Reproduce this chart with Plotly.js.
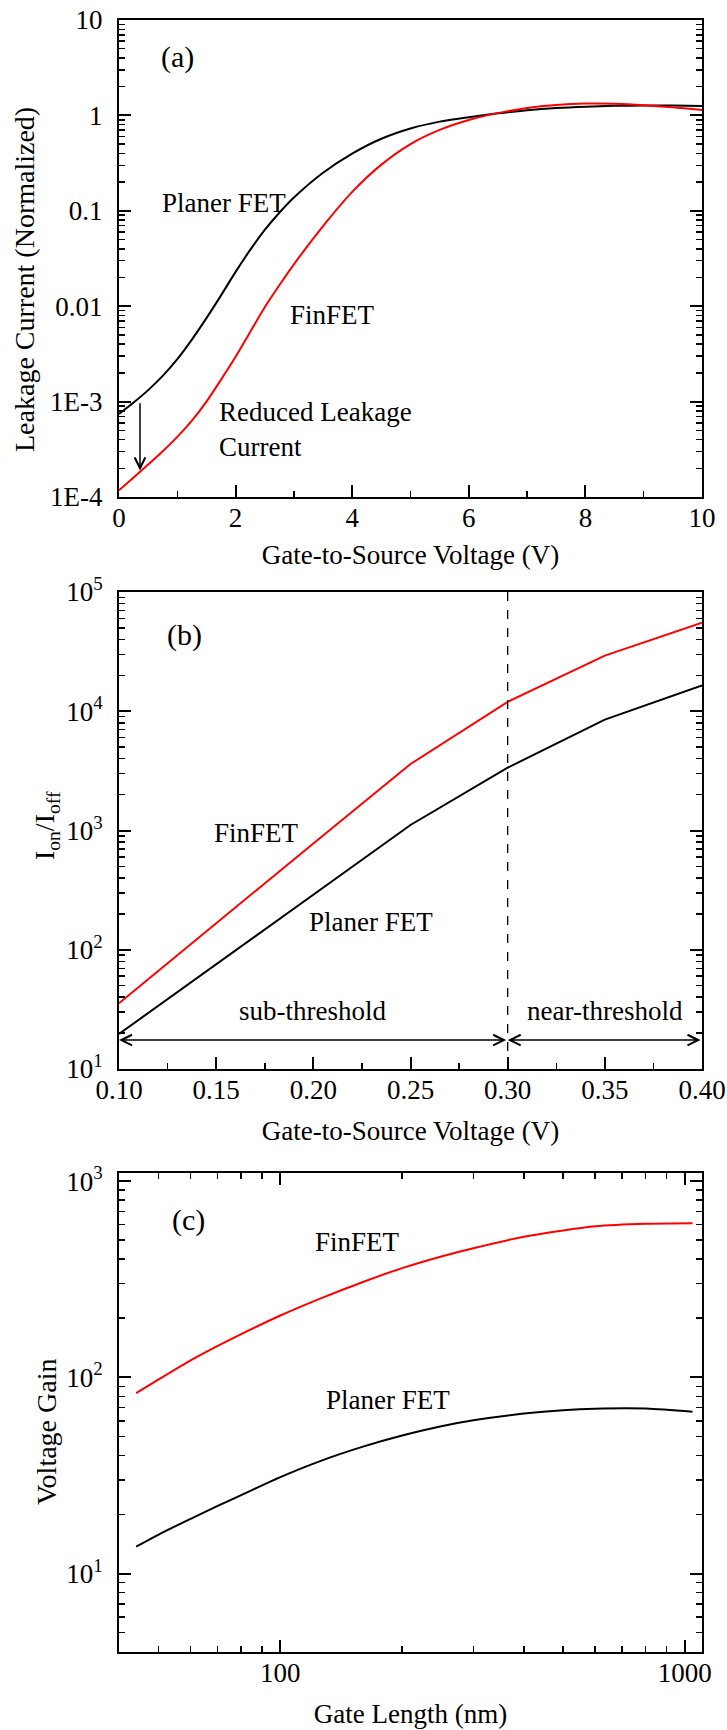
<!DOCTYPE html>
<html><head><meta charset="utf-8">
<script src="https://cdn.plot.ly/plotly-3.0.1.min.js"></script>
<style>html,body{margin:0;padding:0;background:#fff}</style>
</head><body><div id="chart" style="width:727px;height:1730px"></div>
<script>
// ---------- Panel (a): leakage current vs gate-to-source voltage ----------
const vgsA = [0, 0.25, 0.5, 0.75, 1, 1.25, 1.5, 1.75, 2, 2.25, 2.5, 2.75, 3, 3.5, 4, 4.5, 5, 5.5, 6, 6.5, 7, 7.5, 8, 8.5, 9, 9.5, 10];
const leakPlaner = [7.41e-4, 9.77e-4, 1.32e-3, 1.86e-3, 2.79e-3, 4.47e-3, 7.50e-3, 0.0130, 0.0229, 0.0389, 0.0631, 0.0955, 0.138, 0.251, 0.398, 0.569, 0.729, 0.861, 0.959, 1.052, 1.135, 1.197, 1.236, 1.259, 1.268, 1.268, 1.253];
const leakFin = [1.175e-4, 1.60e-4, 2.19e-4, 3.02e-4, 4.27e-4, 6.31e-4, 1.0e-3, 1.70e-3, 2.95e-3, 5.37e-3, 9.77e-3, 0.0166, 0.0275, 0.0692, 0.158, 0.305, 0.501, 0.705, 0.895, 1.057, 1.197, 1.288, 1.33, 1.321, 1.279, 1.216, 1.14];
const tickValsA = [1e-4, 1e-3, 0.01, 0.1, 1, 10];
const tickTextA = ['1E-4', '1E-3', '0.01', '0.1', '1', '10'];

// ---------- Panel (b): Ion/Ioff vs gate-to-source voltage ----------
const vgsB = [0.10, 0.15, 0.20, 0.25, 0.30, 0.35, 0.40];
const ratioFin = [35.6, 168, 780, 3615, 12000, 29300, 55300];
const ratioPlaner = [19.7, 75.5, 290, 1113, 3365, 8510, 16500];
const tickValsBx = [0.10, 0.15, 0.20, 0.25, 0.30, 0.35, 0.40];
const tickTextBx = ['0.10', '0.15', '0.20', '0.25', '0.30', '0.35', '0.40'];
const tickValsB = [10, 100, 1000, 10000, 100000];
const tickTextB = ['10<sup>1</sup>', '10<sup>2</sup>', '10<sup>3</sup>', '10<sup>4</sup>', '10<sup>5</sup>'];
const thresholdV = 0.30;

// ---------- Panel (c): voltage gain vs gate length ----------
const gateLen = [44, 50, 60, 70, 80, 100, 125, 160, 200, 250, 300, 400, 500, 600, 800, 1045];
const gainFin = [83, 97.5, 122, 144.5, 166, 206.5, 251, 306, 360, 413, 455, 520, 560, 588, 606, 610];
const gainPlaner = [13.7, 15.8, 19.0, 22.1, 25.1, 31.0, 37.3, 44.3, 50.5, 56.3, 60.4, 65.3, 68.0, 69.2, 69.3, 66.7];
const tickValsCx = [100, 1000];
const tickTextCx = ['100', '1000'];
const tickValsC = [10, 100, 1000];
const tickTextC = ['10<sup>1</sup>', '10<sup>2</sup>', '10<sup>3</sup>'];

// ---------- helpers ----------
function minorLog(d0, d1) {
  const v = [];
  for (let e = d0; e <= d1; e++) for (let m = 2; m <= 9; m++) v.push(m * Math.pow(10, e));
  return v;
}
const FONT = 'Liberation Serif, Times New Roman, serif';
const BLACK = '#000000', RED = '#ff0000';

function axis(extra) {
  return Object.assign({
    showline: true, linewidth: 2, linecolor: BLACK, mirror: 'ticks',
    ticks: 'inside', ticklen: 12, tickwidth: 2, tickcolor: BLACK,
    showgrid: false, zeroline: false,
    tickfont: { family: FONT, size: 27, color: BLACK }
  }, extra);
}
function minor(vals) {
  return { tickvals: vals, ticks: 'inside', ticklen: 6, tickwidth: 1.5, tickcolor: BLACK, showgrid: false };
}
function xtitle(text, standoff) {
  return { text: text, font: { family: FONT, size: 27, color: BLACK }, standoff: standoff };
}

const traces = [
  { x: vgsA, y: leakPlaner, xaxis: 'x', yaxis: 'y', mode: 'lines', name: 'Planer FET', line: { color: BLACK, width: 2, shape: 'spline', smoothing: 0.8 } },
  { x: vgsA, y: leakFin, xaxis: 'x', yaxis: 'y', mode: 'lines', name: 'FinFET', line: { color: RED, width: 2, shape: 'spline', smoothing: 0.8 } },
  { x: vgsB, y: ratioFin, xaxis: 'x2', yaxis: 'y2', mode: 'lines', name: 'FinFET', line: { color: RED, width: 2 } },
  { x: vgsB, y: ratioPlaner, xaxis: 'x2', yaxis: 'y2', mode: 'lines', name: 'Planer FET', line: { color: BLACK, width: 2 } },
  { x: gateLen, y: gainFin, xaxis: 'x3', yaxis: 'y3', mode: 'lines', name: 'FinFET', line: { color: RED, width: 2, shape: 'spline', smoothing: 0.8 } },
  { x: gateLen, y: gainPlaner, xaxis: 'x3', yaxis: 'y3', mode: 'lines', name: 'Planer FET', line: { color: BLACK, width: 2, shape: 'spline', smoothing: 0.8 } }
];

function label(xref, yref, x, y, text, extra) {
  return Object.assign({ xref: xref, yref: yref, x: x, y: y, text: text, showarrow: false,
    font: { family: FONT, size: 27, color: BLACK } }, extra || {});
}
function ytitle(y, x, text) {
  return { xref: 'paper', yref: 'paper', x: x, y: y, text: text, textangle: -90, showarrow: false,
    xanchor: 'center', yanchor: 'middle', font: { family: FONT, size: 28, color: BLACK } };
}
const L = Math.log10;
const arrowY = 1.243; // log10 position of the double arrows in panel (b)
const arrowStyle = { text: '', showarrow: true, arrowhead: 5, arrowsize: 1.4, arrowwidth: 1.5, arrowcolor: BLACK, standoff: 0, startstandoff: 0 };

const annotations = [
  label('x', 'y', 1.01, 0.612, '(a)', { font: { family: FONT, size: 30, color: BLACK } }),
  label('x', 'y', 1.8, -0.918, 'Planer FET'),
  label('x', 'y', 3.67, -2.09, 'FinFET'),
  label('x', 'y', 1.68, -3.29, 'Reduced Leakage<br>Current', { xanchor: 'left', align: 'left' }),
  Object.assign({ xref: 'x', yref: 'y', x: 0.36, y: L(1.9e-4), ax: 0.36, ay: L(1.0e-3), axref: 'x', ayref: 'y' }, arrowStyle),
  ytitle(0.8407, -0.1612, 'Leakage Current (Normalized)'),

  label('x2', 'y2', 0.1335, 4.64, '(b)', { font: { family: FONT, size: 30, color: BLACK } }),
  label('x2', 'y2', 0.171, 2.979, 'FinFET'),
  label('x2', 'y2', 0.2297, 2.233, 'Planer FET'),
  label('x2', 'y2', 0.1998, 1.486, 'sub-threshold'),
  label('x2', 'y2', 0.350, 1.486, 'near-threshold'),
  Object.assign({ xref: 'x2', yref: 'y2', x: 0.10, y: arrowY, ax: thresholdV, ay: arrowY, axref: 'x2', ayref: 'y2',
    arrowside: 'end+start', startarrowhead: 5, startarrowsize: 1.4 }, arrowStyle),
  Object.assign({ xref: 'x2', yref: 'y2', x: thresholdV, y: arrowY, ax: 0.40, ay: arrowY, axref: 'x2', ayref: 'y2',
    arrowside: 'end+start', startarrowhead: 5, startarrowsize: 1.4 }, arrowStyle),
  ytitle(0.5061, -0.1252, 'I<sub>on</sub>/I<sub>off</sub>'),

  label('x3', 'y3', 1.773, 2.801, '(c)', { font: { family: FONT, size: 30, color: BLACK } }),
  label('x3', 'y3', 2.190, 2.689, 'FinFET'),
  label('x3', 'y3', 2.267, 1.883, 'Planer FET'),
  ytitle(0.1348, -0.1252, 'Voltage Gain')
];

const layout = {
  width: 727, height: 1730,
  margin: { l: 119, r: 25, t: 20, b: 78 },
  paper_bgcolor: '#ffffff', plot_bgcolor: '#ffffff',
  showlegend: false,
  font: { family: FONT, color: BLACK },
  xaxis: axis({ anchor: 'y', domain: [0, 1], range: [0, 10], tickvals: [0, 2, 4, 6, 8, 10], mirror: true, ticklabelstandoff: -4,
    minor: minor([1, 3, 5, 7, 9]), title: xtitle('Gate-to-Source Voltage (V)', 13) }),
  yaxis: axis({ anchor: 'x', domain: [0.7077, 1], type: 'log', range: [-4, 1], tickvals: tickValsA, ticktext: tickTextA, ticklabelstandoff: 9,
    minor: minor(minorLog(-4, 0)) }),
  xaxis2: axis({ anchor: 'y2', domain: [0, 1], range: [0.1, 0.4], tickvals: tickValsBx, ticktext: tickTextBx, mirror: true, ticklabelstandoff: -4,
    minor: minor([0.125, 0.175, 0.225, 0.275, 0.325, 0.375]), title: xtitle('Gate-to-Source Voltage (V)', 17) }),
  yaxis2: axis({ anchor: 'x2', domain: [0.3572, 0.6495], type: 'log', range: [1, 5], tickvals: tickValsB, ticktext: tickTextB, ticklabelstandoff: 9,
    minor: minor(minorLog(1, 4)) }),
  xaxis3: axis({ anchor: 'y3', domain: [0, 1], type: 'log', range: [1.601, 3.0425], tickvals: tickValsCx, ticktext: tickTextCx, ticklabelstandoff: -4,
    minor: minor([50, 60, 70, 80, 90, 200, 300, 400, 500, 600, 700, 800, 900]), title: xtitle('Gate Length (nm)', 17) }),
  yaxis3: axis({ anchor: 'x3', domain: [0, 0.2935], type: 'log', range: [0.6, 3.041], tickvals: tickValsC, ticktext: tickTextC, ticklabelstandoff: 9,
    minor: minor(minorLog(0, 2).filter(v => v >= 4)) }),
  shapes: [
    { type: 'line', xref: 'x2', yref: 'y2 domain', x0: thresholdV, x1: thresholdV, y0: 0, y1: 1,
      line: { color: BLACK, width: 1.3, dash: 'dash' } }
  ],
  annotations: annotations
};

Plotly.newPlot('chart', traces, layout, { staticPlot: true, displayModeBar: false });
</script>
</body></html>
